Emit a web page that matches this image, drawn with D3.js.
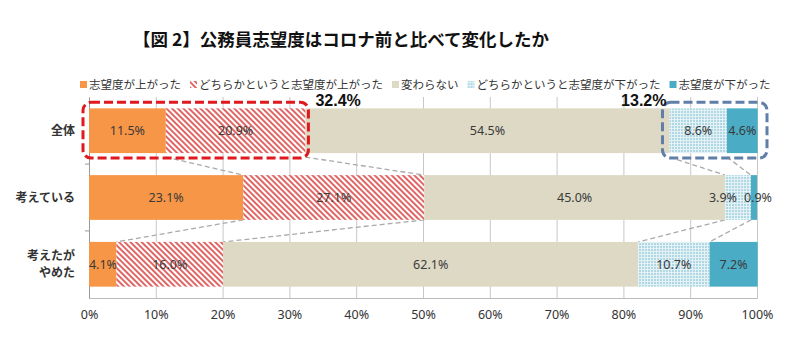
<!DOCTYPE html>
<html>
<head>
<meta charset="utf-8">
<script src="https://cdn.jsdelivr.net/npm/d3@7"></script>
<style>
 body { margin: 0; background: #fff; }
 text { font-family: "Noto Sans CJK JP", "Noto Sans", sans-serif; }
</style>
</head>
<body>
<div id="container"></div>
<script>
/* CONSTANTS AND GLOBALS */
const width = 800,
 height = 351,
 margin = { top: 97, bottom: 53, left: 89, right: 43 }

const titleText = "【図 2】公務員志望度はコロナ前と比べて変化したか"
const categories = ["全体", "考えている", "考えたがやめた"]
const catLabels = [["全体"], ["考えている"], ["考えたが", "やめた"]]
const seriesNames = ["志望度が上がった", "どちらかというと志望度が上がった", "変わらない", "どちらかというと志望度が下がった", "志望度が下がった"]
const values = [
 [11.5, 20.9, 54.5, 8.6, 4.6],
 [23.1, 27.1, 45.0, 3.9, 0.9],
 [4.1, 16.0, 62.1, 10.7, 7.2]
]
const xTicks = [0, 10, 20, 30, 40, 50, 60, 70, 80, 90, 100]
const upTotal = "32.4%"
const downTotal = "13.2%"

const fills = ["#F79646", "url(#hatch)", "#DDD9C4", "url(#dots)", "#4BACC6"]

// stack: cumulative starts/ends per row
const rows = values.map((vals, i) => {
 let acc = 0
 return vals.map((v, j) => {
   const seg = { cat: categories[i], s: j, v: v, x0: acc, x1: acc + v }
   acc += v
   return seg
 })
})

/* SCALES */
const xScale = d3.scaleLinear()
 .domain([0, 100])
 .range([margin.left, width - margin.right])

const yScale = d3.scaleBand()
 .domain(categories)
 .range([margin.top, height - margin.bottom])
 .paddingInner(0.33)
 .paddingOuter(0.17)

const svg = d3.select("#container")
 .append("svg")
 .attr("width", width)
 .attr("height", height)

// PATTERNS
const defs = svg.append("defs")
const hatch = defs.append("pattern")
 .attr("id", "hatch")
 .attr("patternUnits", "userSpaceOnUse")
 .attr("width", 4).attr("height", 4)
 .attr("patternTransform", "rotate(-45)")
hatch.append("rect").attr("width", 4).attr("height", 4).attr("fill", "#fff")
hatch.append("rect").attr("width", 2).attr("height", 4).attr("fill", "#E06666")

const dots = defs.append("pattern")
 .attr("id", "dots")
 .attr("patternUnits", "userSpaceOnUse")
 .attr("width", 3).attr("height", 3)
dots.append("rect").attr("width", 3).attr("height", 3).attr("fill", "#E4F2F6")
dots.append("circle").attr("cx", 1).attr("cy", 1).attr("r", 0.8).attr("fill", "#6FB8CF")

// TITLE
svg.append("text")
 .attr("x", 341)
 .attr("y", 46)
 .attr("text-anchor", "middle")
 .style("font-size", "17.5px")
 .style("font-weight", "bold")
 .attr("fill", "#111")
 .text(titleText)

// LEGEND
const legend = svg.append("g").attr("transform", "translate(80, 89)")
let lx = 0
seriesNames.forEach((name, i) => {
 const g = legend.append("g").attr("transform", `translate(${lx}, 0)`)
 g.append("rect")
   .attr("x", 0).attr("y", -8)
   .attr("width", 7).attr("height", 7)
   .attr("fill", fills[i])
 const t = g.append("text")
   .attr("x", 9).attr("y", 0)
   .style("font-size", "11.5px")
   .attr("fill", "#333")
   .text(name)
 lx += 9 + t.node().getComputedTextLength() + 9
})

// GRIDLINES AND AXIS
const xAxis = d3.axisBottom(xScale)
 .tickValues(xTicks)
 .tickFormat(d => d + "%")
 .tickSize(-(height - margin.top - margin.bottom))
 .tickPadding(12)

const xAxisGroup = svg.append("g")
 .attr("class", "xAxis")
 .attr("transform", `translate(0, ${height - margin.bottom})`)
 .call(xAxis)
xAxisGroup.select(".domain").attr("stroke", "#BBB")
xAxisGroup.selectAll(".tick line").attr("stroke", "#C8C8C8")
xAxisGroup.selectAll(".tick text")
 .style("font-size", "12.5px")
 .style("font-family", "Noto Sans, sans-serif")
 .attr("fill", "#333")

const yAxis = d3.axisLeft(yScale).tickSize(0).tickFormat("")
const yAxisGroup = svg.append("g")
 .attr("transform", `translate(${margin.left}, 0)`)
 .call(yAxis)
yAxisGroup.select(".domain").attr("stroke", "#999")
// small ticks between categories
yAxisGroup.selectAll(".sep")
 .data(categories.slice(1))
 .join("line")
 .attr("x1", -4).attr("x2", 0)
 .attr("y1", d => yScale(d) - yScale.step() * yScale.paddingInner() / 2)
 .attr("y2", d => yScale(d) - yScale.step() * yScale.paddingInner() / 2)
 .attr("stroke", "#999")

// category labels
svg.selectAll(".catLabel")
 .data(categories)
 .join("text")
 .attr("class", "catLabel")
 .attr("text-anchor", "end")
 .style("font-size", "12px")
 .style("font-weight", "bold")
 .attr("fill", "#333")
 .each(function (d, i) {
   const lines = catLabels[i]
   const cy = yScale(d) + yScale.bandwidth() / 2
   d3.select(this).selectAll("tspan")
     .data(lines)
     .join("tspan")
     .attr("x", 75)
     .attr("y", (l, k) => cy + 4 + (k - (lines.length - 1) / 2) * 17)
     .text(l => l)
 })

// CONNECTOR LINES
const links = []
for (let i = 0; i < rows.length - 1; i++) {
 [0, 1, 2, 3].forEach(k => {
   links.push({
     x1: xScale(rows[i][k].x1), y1: yScale(categories[i]) + yScale.bandwidth() + (i === 0 ? 4 : 0),
     x2: xScale(rows[i + 1][k].x1), y2: yScale(categories[i + 1])
   })
 })
}
svg.selectAll(".link")
 .data(links)
 .join("line")
 .attr("x1", d => d.x1).attr("y1", d => d.y1)
 .attr("x2", d => d.x2).attr("y2", d => d.y2)
 .attr("stroke", "#AAA")
 .attr("stroke-width", 1.3)
 .attr("stroke-dasharray", "5,3")

// BARS
const rowG = svg.selectAll(".row")
 .data(rows)
 .join("g")
 .attr("class", "row")

rowG.selectAll("rect")
 .data(d => d)
 .join("rect")
 .attr("x", d => xScale(d.x0))
 .attr("y", d => yScale(d.cat))
 .attr("width", d => xScale(d.x1) - xScale(d.x0))
 .attr("height", yScale.bandwidth())
 .attr("fill", d => fills[d.s])

// labels; narrow segments get nudged so they don't collide
rowG.selectAll("text")
 .data(d => d)
 .join("text")
 .attr("x", d => {
   if (d.v < 5 && d.s === 0) return xScale(d.x0) + 14
   if (d.v < 5 && d.s === 3) return xScale(d.x1) - 28
   if (d.v < 2 && d.s === 4) return xScale(d.x1) + 1
   return xScale((d.x0 + d.x1) / 2)
 })
 .attr("y", d => yScale(d.cat) + yScale.bandwidth() / 2 + 4.5)
 .attr("text-anchor", "middle")
 .style("font-size", "12.5px")
 .style("font-family", "Noto Sans, sans-serif")
 .attr("fill", "#3A3A3A")
 .text(d => d.v.toFixed(1) + "%")

// CALLOUT BOXES
const r0 = rows[0]
const top0 = yScale(categories[0])
svg.append("rect")
 .attr("x", xScale(0) - 6)
 .attr("y", top0 - 6)
 .attr("width", xScale(r0[1].x1) - xScale(0) + 9)
 .attr("height", yScale.bandwidth() + 11)
 .attr("rx", 8)
 .attr("fill", "none")
 .attr("stroke", "#E0191E")
 .attr("stroke-width", 3)
 .attr("stroke-dasharray", "9,4")

svg.append("rect")
 .attr("x", xScale(r0[2].x1) - 7)
 .attr("y", top0 - 6)
 .attr("width", xScale(100) - xScale(r0[2].x1) + 17)
 .attr("height", yScale.bandwidth() + 11)
 .attr("rx", 8)
 .attr("fill", "none")
 .attr("stroke", "#5F7FA8")
 .attr("stroke-width", 3)
 .attr("stroke-dasharray", "9,4")

svg.append("text")
 .attr("x", xScale(r0[1].x1) + 10)
 .attr("y", top0 - 2)
 .style("font-size", "16px")
 .style("font-weight", "bold")
 .style("font-family", "Liberation Sans, sans-serif")
 .attr("fill", "#111")
 .text(upTotal)

svg.append("text")
 .attr("x", xScale(r0[2].x1) - 3)
 .attr("y", top0 - 2)
 .attr("text-anchor", "end")
 .style("font-size", "16px")
 .style("font-weight", "bold")
 .style("font-family", "Liberation Sans, sans-serif")
 .attr("fill", "#111")
 .text(downTotal)
</script>
</body>
</html>
